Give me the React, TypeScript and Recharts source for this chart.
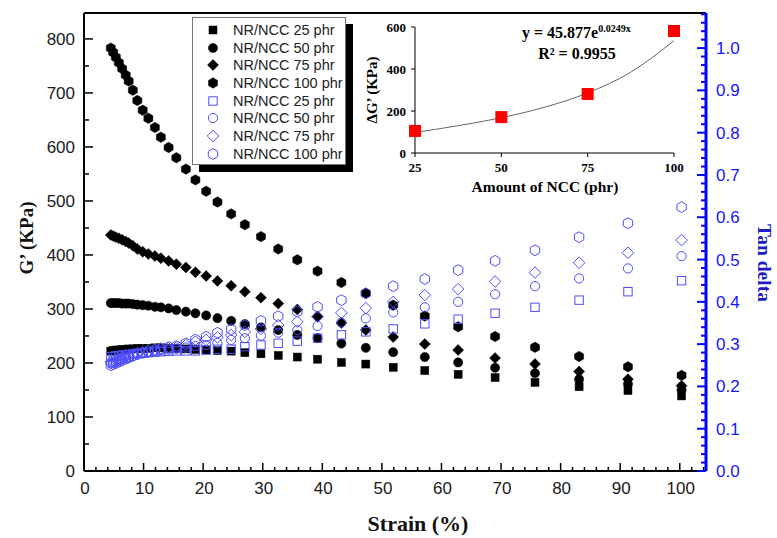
import React from 'react';
import {
  ScatterChart, Scatter, XAxis, YAxis, ReferenceLine, ComposedChart, Line
} from 'recharts';

// strain (%) shared by all series
const strain = [4.5, 4.9, 5.35, 5.85, 6.4, 7.0, 7.5, 8.2, 8.95, 9.85, 10.8, 11.9, 12.9, 14.2, 15.5, 17.1, 18.7, 20.5, 22.4, 24.7, 27.0, 29.7, 32.6, 35.8, 39.2, 43.2, 47.3, 51.9, 57.2, 62.8, 69.0, 75.7, 83.1, 91.3, 100.3];

// G' (KPa)
const g25 = [222, 223, 224, 224, 225, 225, 226, 226, 227, 227, 227, 228, 228, 227, 227, 226, 225, 224, 223, 222, 219, 217, 214, 211, 207, 201, 198, 192, 186, 179, 173, 164, 156, 149, 139];
const g50 = [311, 311, 311, 311, 310, 310, 310, 309, 308, 307, 306, 304, 303, 301, 298, 295, 292, 288, 283, 278, 272, 266, 261, 252, 246, 236, 228, 220, 211, 201, 191, 181, 170, 161, 150];
const g75 = [437, 435, 433, 431, 428, 425, 422, 417, 411, 406, 402, 398, 394, 389, 383, 377, 368, 361, 352, 343, 332, 321, 310, 299, 286, 274, 261, 248, 235, 224, 209, 198, 184, 170, 158];
const g100 = [783, 775, 766, 756, 745, 733, 722, 705, 686, 668, 653, 636, 618, 599, 580, 559, 539, 518, 498, 476, 456, 434, 411, 391, 370, 349, 329, 307, 287, 267, 249, 229, 212, 193, 177];

// tan delta
const tan25 = [0.270, 0.271, 0.272, 0.273, 0.274, 0.275, 0.276, 0.277, 0.278, 0.279, 0.280, 0.281, 0.282, 0.283, 0.284, 0.284, 0.284, 0.286, 0.288, 0.288, 0.294, 0.298, 0.302, 0.307, 0.314, 0.322, 0.329, 0.336, 0.348, 0.359, 0.373, 0.387, 0.404, 0.424, 0.450];
const tan50 = [0.254, 0.256, 0.258, 0.261, 0.264, 0.267, 0.269, 0.272, 0.275, 0.278, 0.280, 0.283, 0.285, 0.287, 0.289, 0.292, 0.2955, 0.298, 0.303, 0.310, 0.314, 0.320, 0.327, 0.333, 0.343, 0.351, 0.361, 0.375, 0.387, 0.400, 0.418, 0.437, 0.4555, 0.479, 0.508];
const tan75 = [0.258, 0.260, 0.262, 0.265, 0.268, 0.271, 0.273, 0.276, 0.279, 0.281, 0.283, 0.286, 0.288, 0.290, 0.292, 0.298, 0.306, 0.310, 0.316, 0.3215, 0.329, 0.336, 0.345, 0.353, 0.365, 0.374, 0.385, 0.400, 0.416, 0.430, 0.448, 0.469, 0.4925, 0.516, 0.546];
const tan100 = [0.250, 0.252, 0.255, 0.258, 0.261, 0.265, 0.268, 0.272, 0.276, 0.280, 0.284, 0.287, 0.290, 0.293, 0.2955, 0.302, 0.311, 0.3175, 0.327, 0.335, 0.345, 0.355, 0.366, 0.377, 0.388, 0.404, 0.420, 0.437, 0.454, 0.475, 0.497, 0.522, 0.553, 0.586, 0.624];

const seriesNames = ['NR/NCC 25 phr', 'NR/NCC 50 phr', 'NR/NCC 75 phr', 'NR/NCC 100 phr'];

const strainTicks = [0, 10, 20, 30, 40, 50, 60, 70, 80, 90, 100];
const gTicks = [0, 100, 200, 300, 400, 500, 600, 700, 800];
const tanTicks = [0.0, 0.1, 0.2, 0.3, 0.4, 0.5, 0.6, 0.7, 0.8, 0.9, 1.0];

// inset: delta G' vs NCC amount
const nccAmount = [25, 50, 75, 100];
const deltaG = [105, 171, 281, 581];
const fitAmount = [25, 37.5, 50, 62.5, 75, 87.5, 100];
const fitDeltaG = [98, 130, 168, 218, 286, 385, 535];
const nccTicks = [25, 50, 75, 100];
const deltaGTicks = [0, 200, 400, 600];

const BLUE = '#4d4dff';
const SANS = "'Liberation Sans', Arial, sans-serif";
const SERIF = "'Liberation Serif', 'Times New Roman', serif";

// minor ticks between the labelled ones
const xAll = strainTicks.flatMap(t => [t, t + 2, t + 4, t + 6, t + 8]).filter(t => t <= 104);
const gAll = gTicks.flatMap(t => [t, t + 50]).filter(t => t <= 848);
const tanAll = tanTicks.flatMap(t => [0, 1, 2, 3, 4].map(k => Math.round((t * 10 + k * 0.2) * 100) / 1000))
  .filter(t => t <= 1.083);

type Kind = 'square' | 'circle' | 'diamond' | 'hexagon';

const Marker = ({ kind, cx, cy, filled }: { kind: Kind; cx: number; cy: number; filled: boolean }) => {
  const fill = filled ? '#000' : 'none';
  const stroke = filled ? '#000' : BLUE;
  const sw = filled ? 0.5 : 1;
  if (kind === 'square') {
    const h = filled ? 4 : 4.2;
    return <rect x={cx - h} y={cy - h} width={h * 2} height={h * 2} fill={fill} stroke={stroke} strokeWidth={sw} />;
  }
  if (kind === 'circle') {
    return <circle cx={cx} cy={cy} r={4.6} fill={fill} stroke={stroke} strokeWidth={sw} />;
  }
  if (kind === 'diamond') {
    const d = filled ? 5.5 : 5.8;
    return <polygon points={`${cx},${cy - d} ${cx + d},${cy} ${cx},${cy + d} ${cx - d},${cy}`} fill={fill} stroke={stroke} strokeWidth={sw} />;
  }
  const r = filled ? 5.2 : 5.4;
  const pts = [0, 1, 2, 3, 4, 5].map(i => {
    const a = (Math.PI / 3) * i + Math.PI / 2;
    return `${cx + r * Math.cos(a)},${cy - r * Math.sin(a)}`;
  }).join(' ');
  return <polygon points={pts} fill={fill} stroke={stroke} strokeWidth={sw} />;
};

const kinds: Kind[] = ['square', 'circle', 'diamond', 'hexagon'];
const gSeries = [g25, g50, g75, g100];
const tanSeries = [tan25, tan50, tan75, tan100];

const toPoints = (vals: number[]) => strain.map((s, i) => ({ x: s, y: vals[i] }));

const renderXTick = (p: any) => {
  const v = p.payload.value;
  const major = v % 10 === 0;
  return (
    <g>
      <line x1={p.x} x2={p.x} y1={p.y} y2={p.y - (major ? 8 : 4)} stroke="#000" strokeWidth={1.5} />
      {major && (
        <text x={p.x + 1} y={p.y + 17} dy="0.35em" textAnchor="middle" fontFamily={SANS} fontSize={17} fill="#1a1a1a">{v}</text>
      )}
    </g>
  );
};

const renderGTick = (p: any) => {
  const v = p.payload.value;
  const major = v % 100 === 0;
  return (
    <g>
      <line x1={p.x} x2={p.x + (major ? 9 : 5)} y1={p.y} y2={p.y} stroke="#000" strokeWidth={1.5} />
      {major && (
        <text x={p.x - 9} y={p.y} dy="0.35em" textAnchor="end" fontFamily={SANS} fontSize={17} fill="#1a1a1a">{v}</text>
      )}
    </g>
  );
};

const renderTanTick = (p: any) => {
  const v = p.payload.value;
  const major = Math.round(v * 50) % 5 === 0;
  return (
    <g>
      <line x1={p.x} x2={p.x - (major ? 9 : 5)} y1={p.y} y2={p.y} stroke="#0000ff" strokeWidth={2} />
      {major && (
        <text x={p.x + 10} y={p.y} dy="0.35em" textAnchor="start" fontFamily={SANS} fontSize={17} fill="#1515ff">{v.toFixed(1)}</text>
      )}
    </g>
  );
};

const RedSquare = (p: any) => {
  if (p.cx == null) return null;
  return <rect x={p.cx - 6} y={p.cy - 6} width={12} height={12} fill="#ff0000" />;
};

const abs = (left: number, top: number, extra: React.CSSProperties = {}): React.CSSProperties => ({
  position: 'absolute', left, top, whiteSpace: 'nowrap', lineHeight: 1, ...extra,
});

const App = () => {
  const fitData = fitAmount.map((x, i) => ({ x, y: fitDeltaG[i] }));
  const ptData = nccAmount.map((x, i) => ({ x, y: deltaG[i] }));

  return (
    <div style={{ position: 'absolute', left: 0, top: 0, width: 777, height: 538, background: '#fff', overflow: 'hidden' }}>
      <ScatterChart width={777} height={538} margin={{ top: 13, right: 0, bottom: 0, left: 0 }}>
        <XAxis
          type="number" dataKey="x" domain={[0, 104.4]} ticks={xAll} interval={0}
          tickLine={false} tickSize={0} tickMargin={0} tick={renderXTick} height={67}
          axisLine={{ stroke: '#000', strokeWidth: 2 }}
        />
        <YAxis
          yAxisId="g" type="number" dataKey="y" domain={[0, 848]} ticks={gAll} interval={0}
          tickLine={false} tickSize={0} tickMargin={0} tick={renderGTick} width={84}
          axisLine={{ stroke: '#000', strokeWidth: 2 }}
        />
        <YAxis
          yAxisId="t" orientation="right" type="number" dataKey="y" domain={[0, 1.083]} ticks={tanAll} interval={0}
          tickLine={false} tickSize={0} tickMargin={0} tick={renderTanTick} width={71}
          axisLine={{ stroke: '#0000ff', strokeWidth: 3 }}
        />
        <ReferenceLine yAxisId="g" y={848} stroke="#000" strokeWidth={2} />
        {gSeries.map((vals, i) => (
          <Scatter
            key={'g' + i} yAxisId="g" name={seriesNames[i]} data={toPoints(vals)} isAnimationActive={false}
            shape={(p: any) => <Marker kind={kinds[i]} cx={p.cx} cy={p.cy} filled />}
          />
        ))}
        {tanSeries.map((vals, i) => (
          <Scatter
            key={'t' + i} yAxisId="t" name={seriesNames[i]} data={toPoints(vals)} isAnimationActive={false}
            shape={(p: any) => <Marker kind={kinds[i]} cx={p.cx} cy={p.cy} filled={false} />}
          />
        ))}
      </ScatterChart>

      {/* axis titles */}
      <div style={abs(26, 238, { transform: 'translate(-50%,-50%) rotate(-90deg)', fontFamily: SERIF, fontWeight: 'bold', fontSize: 19, color: '#111' })}>G’ (KPa)</div>
      <div style={abs(764, 263, { transform: 'translate(-50%,-50%) rotate(90deg)', fontFamily: SERIF, fontWeight: 'bold', fontSize: 19.5, color: '#1c1cc4' })}>Tan delta</div>
      <div style={abs(418, 524, { transform: 'translate(-50%,-50%)', fontFamily: SERIF, fontWeight: 'bold', fontSize: 22, color: '#111' })}>Strain (%)</div>

      {/* legend */}
      <div style={{ position: 'absolute', left: 192, top: 17, width: 154, height: 148, boxSizing: 'border-box', border: '1px solid #777', background: '#fff', boxShadow: '7px 7px 0 #000', paddingTop: 3 }}>
        {[true, false].flatMap(filled => kinds.map((k, i) => (
          <div key={k + filled} style={{ position: 'relative', height: 17.7 }}>
            <svg width={16} height={16} style={{ position: 'absolute', left: 12, top: 1 }}>
              <Marker kind={k} cx={8} cy={8} filled={filled} />
            </svg>
            <span style={{ position: 'absolute', left: 40, top: 1, fontFamily: SANS, fontSize: 14.5, color: '#222', lineHeight: '16px' }}>{seriesNames[i]}</span>
          </div>
        )))}
      </div>

      {/* inset */}
      <div style={{ position: 'absolute', left: 350, top: 10, width: 340, height: 190 }}>
        <ComposedChart width={340} height={190} margin={{ top: 17, right: 16, bottom: 0, left: 25 }}>
          <XAxis
            type="number" dataKey="x" domain={[25, 100]} ticks={nccTicks} interval={0} height={47}
            tickSize={4} tickMargin={6} axisLine={{ stroke: '#000' }} tickLine={{ stroke: '#000' }}
            tick={{ fontFamily: SERIF, fontWeight: 'bold', fontSize: 13, fill: '#000' }}
          />
          <YAxis
            type="number" domain={[0, 600]} ticks={deltaGTicks} interval={0} width={40}
            tickSize={4} tickMargin={5} axisLine={{ stroke: '#000' }} tickLine={{ stroke: '#000' }}
            tick={{ fontFamily: SERIF, fontWeight: 'bold', fontSize: 13, fill: '#000' }}
          />
          <Line data={fitData} dataKey="y" type="monotone" dot={false} stroke="#666" strokeWidth={1} isAnimationActive={false} />
          <Line data={ptData} dataKey="y" stroke="none" dot={<RedSquare />} activeDot={false} isAnimationActive={false} />
        </ComposedChart>
      </div>
      <div style={abs(372, 90, { transform: 'translate(-50%,-50%) rotate(-90deg)', fontFamily: SERIF, fontWeight: 'bold', fontSize: 15, color: '#000' })}>ΔG’ (KPa)</div>
      <div style={abs(545, 187, { transform: 'translate(-50%,-50%)', fontFamily: SERIF, fontWeight: 'bold', fontSize: 15.5, color: '#000' })}>Amount of NCC (phr)</div>
      <div style={abs(522, 25, { fontFamily: SERIF, fontWeight: 'bold', fontSize: 16, color: '#000' })}>
        y = 45.877e<span style={{ fontSize: 10, position: 'relative', top: -6 }}>0.0249x</span>
      </div>
      <div style={abs(577, 46, { transform: 'translateX(-50%)', fontFamily: SERIF, fontWeight: 'bold', fontSize: 16, color: '#000' })}>R² = 0.9955</div>
    </div>
  );
};

export default App;
